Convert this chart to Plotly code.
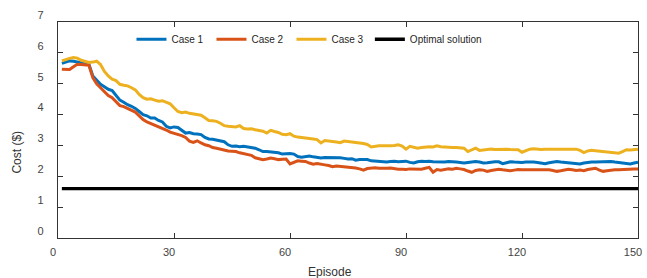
import plotly.graph_objects as go

episodes = list(range(1, 151))

case1 = [5.66, 5.70, 5.74, 5.73, 5.70, 5.68, 5.66, 5.63, 5.25, 5.10,
         4.98, 4.90, 4.82, 4.78, 4.62, 4.47, 4.40, 4.32, 4.27, 4.20,
         4.10, 4.00, 3.96, 3.89, 3.89, 3.81, 3.76, 3.62, 3.57, 3.60,
         3.58, 3.48, 3.40, 3.42, 3.38, 3.37, 3.35, 3.26, 3.21, 3.20,
         3.17, 3.15, 3.12, 3.02, 2.97, 2.98, 2.96, 2.97, 2.95, 2.92,
         2.91, 2.86, 2.80, 2.80, 2.79, 2.78, 2.76, 2.72, 2.73, 2.74,
         2.72, 2.64, 2.62, 2.65, 2.66, 2.63, 2.60, 2.59, 2.61, 2.61,
         2.60, 2.59, 2.60, 2.58, 2.56, 2.57, 2.52, 2.54, 2.55, 2.54,
         2.50, 2.49, 2.50, 2.47, 2.46, 2.48, 2.49, 2.47, 2.49, 2.49,
         2.45, 2.43, 2.47, 2.49, 2.48, 2.49, 2.47, 2.46, 2.47, 2.46,
         2.48, 2.48, 2.46, 2.45, 2.43, 2.45, 2.47, 2.48, 2.46, 2.43,
         2.44, 2.46, 2.47, 2.47, 2.41, 2.44, 2.47, 2.46, 2.45, 2.45,
         2.46, 2.47, 2.46, 2.45, 2.43, 2.41, 2.44, 2.47, 2.48, 2.46,
         2.45, 2.45, 2.44, 2.42, 2.40, 2.43, 2.45, 2.46, 2.46, 2.47,
         2.47, 2.48, 2.48, 2.46, 2.44, 2.43, 2.42, 2.40, 2.43, 2.46]

case2 = [5.47, 5.47, 5.46, 5.55, 5.63, 5.62, 5.61, 5.60, 5.20, 5.00,
         4.87, 4.73, 4.62, 4.55, 4.42, 4.29, 4.26, 4.20, 4.12, 4.08,
         3.96, 3.84, 3.76, 3.71, 3.67, 3.62, 3.57, 3.50, 3.43, 3.40,
         3.36, 3.32, 3.26, 3.14, 3.10, 3.15, 3.08, 3.02, 2.99, 2.93,
         2.91, 2.88, 2.83, 2.82, 2.81, 2.80, 2.76, 2.73, 2.72, 2.68,
         2.60, 2.58, 2.54, 2.56, 2.59, 2.57, 2.54, 2.55, 2.56, 2.40,
         2.45, 2.50, 2.49, 2.48, 2.43, 2.39, 2.41, 2.40, 2.37, 2.35,
         2.31, 2.33, 2.32, 2.31, 2.30, 2.28, 2.27, 2.24, 2.20, 2.25,
         2.27, 2.28, 2.26, 2.25, 2.26, 2.27, 2.24, 2.23, 2.23, 2.22,
         2.24, 2.23, 2.22, 2.23, 2.26, 2.29, 2.13, 2.22, 2.20, 2.23,
         2.24, 2.23, 2.26, 2.24, 2.22, 2.17, 2.13, 2.19, 2.21, 2.20,
         2.16, 2.19, 2.21, 2.23, 2.21, 2.19, 2.18, 2.20, 2.22, 2.21,
         2.21, 2.20, 2.21, 2.22, 2.21, 2.20, 2.21, 2.19, 2.16, 2.18,
         2.20, 2.23, 2.21, 2.19, 2.20, 2.18, 2.22, 2.25, 2.26, 2.20,
         2.16, 2.18, 2.20, 2.21, 2.21, 2.22, 2.24, 2.23, 2.24, 2.24]

case3 = [5.74, 5.79, 5.82, 5.85, 5.83, 5.76, 5.72, 5.69, 5.70, 5.73,
         5.62, 5.40, 5.25, 5.15, 5.10, 4.98, 4.95, 4.93, 4.87, 4.80,
         4.65, 4.55, 4.50, 4.51, 4.47, 4.43, 4.45, 4.40, 4.35, 4.22,
         4.10, 4.06, 4.08, 4.04, 4.02, 4.00, 3.98, 3.90, 3.81, 3.80,
         3.78, 3.72, 3.64, 3.62, 3.61, 3.60, 3.64, 3.55, 3.53, 3.54,
         3.51, 3.48, 3.46, 3.40, 3.49, 3.45, 3.42, 3.36, 3.35, 3.38,
         3.30, 3.27, 3.26, 3.25, 3.24, 3.21, 3.19, 3.08, 3.16, 3.15,
         3.13, 3.11, 3.09, 3.14, 3.13, 3.12, 3.10, 3.08, 3.06, 3.03,
         2.95, 2.98, 2.99, 2.99, 2.98, 2.99, 3.00, 3.02, 2.98, 2.88,
         2.97, 2.93, 2.91, 2.93, 2.95, 2.96, 2.95, 2.99, 2.96, 2.95,
         2.92, 2.93, 2.93, 2.92, 2.91, 2.80, 2.86, 2.91, 2.84, 2.86,
         2.88, 2.88, 2.87, 2.88, 2.89, 2.88, 2.87, 2.86, 2.86, 2.78,
         2.84, 2.88, 2.89, 2.87, 2.87, 2.88, 2.88, 2.87, 2.88, 2.88,
         2.88, 2.87, 2.88, 2.88, 2.84, 2.77, 2.82, 2.84, 2.83, 2.82,
         2.81, 2.80, 2.79, 2.76, 2.75, 2.80, 2.86, 2.85, 2.87, 2.88]

optimal_x = [1, 150]
optimal_y = [1.6, 1.6]

x_ticks = [0, 30, 60, 90, 120, 150]
y_ticks = [0, 1, 2, 3, 4, 5, 6, 7]

FONT = "Liberation Sans, Arial, sans-serif"

fig = go.Figure()
fig.add_trace(go.Scatter(x=episodes, y=case1, mode="lines", name="Case 1",
                         line=dict(color="#0072BD", width=3)))
fig.add_trace(go.Scatter(x=episodes, y=case2, mode="lines", name="Case 2",
                         line=dict(color="#D95319", width=3)))
fig.add_trace(go.Scatter(x=episodes, y=case3, mode="lines", name="Case 3",
                         line=dict(color="#EDB120", width=3)))
fig.add_trace(go.Scatter(x=optimal_x, y=optimal_y, mode="lines", name="Optimal solution",
                         line=dict(color="#000000", width=3.4), legend="legend2"))

axis_common = dict(showline=True, linecolor="#333333", linewidth=1.2, mirror="ticks",
                   ticks="inside", ticklen=5, tickcolor="#333333", tickwidth=1,
                   showgrid=False, zeroline=False,
                   tickfont=dict(family=FONT, size=11, color="#444444"))

fig.update_xaxes(range=[0, 150], tickvals=x_ticks, ticklabelshift=-5,
                 ticklabelstandoff=4, **axis_common)
fig.update_yaxes(range=[0, 7], tickvals=y_ticks, ticklabelshift=-7,
                 ticklabelstandoff=11, **axis_common)

legend_common = dict(orientation="h", y=0.987, xanchor="left", yanchor="top",
                     bgcolor="rgba(0,0,0,0)",
                     font=dict(family=FONT, size=10, color="#262626"),
                     itemwidth=30, tracegroupgap=0)

fig.update_layout(
    width=647, height=278,
    margin=dict(l=58, r=5, t=22, b=40),
    paper_bgcolor="white", plot_bgcolor="white",
    font=dict(family=FONT, size=10, color="#262626"),
    showlegend=True,
    legend=dict(x=0.1267, entrywidth=35, entrywidthmode="pixels", **legend_common),
    legend2=dict(x=0.5377, **legend_common),
    annotations=[
        dict(text="Episode", xref="paper", yref="paper", x=0.4687, y=-0.1576,
             xanchor="center", yanchor="middle", showarrow=False,
             font=dict(family=FONT, size=12, color="#333333")),
        dict(text="Cost ($)", xref="paper", yref="paper", x=-0.0707, y=0.40,
             xanchor="center", yanchor="middle", showarrow=False, textangle=-90,
             font=dict(family=FONT, size=12, color="#333333")),
    ],
)

fig.write_html("out.html", config={"displayModeBar": False},
               post_script="document.body.style.margin='0';")
